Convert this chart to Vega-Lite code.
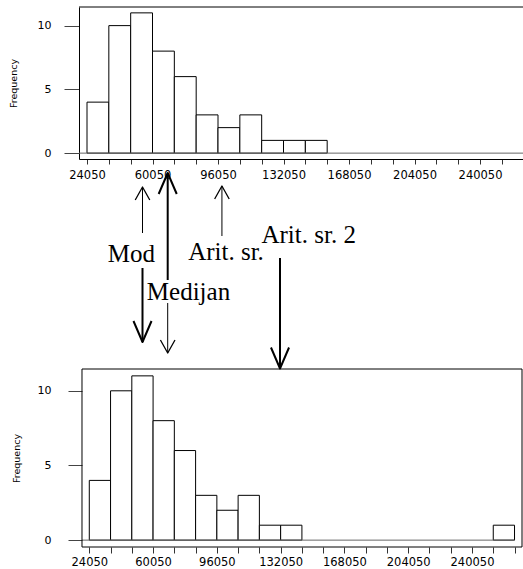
{
  "$schema": "https://vega.github.io/schema/vega-lite/v6.json",
  "padding": {"left": 8, "top": 6, "right": 0, "bottom": 0},
  "background": "white",
  "bounds": "flush",
  "spacing": 0,
  "config": {
    "view": {"stroke": null},
    "axis": {"grid": false, "labelOverlap": false, "labelFlush": false}
  },
  "datasets": {
    "top": [
      {"bin_start": 24050, "bin_end": 36050, "count": 4},
      {"bin_start": 36050, "bin_end": 48050, "count": 10},
      {"bin_start": 48050, "bin_end": 60050, "count": 11},
      {"bin_start": 60050, "bin_end": 72050, "count": 8},
      {"bin_start": 72050, "bin_end": 84050, "count": 6},
      {"bin_start": 84050, "bin_end": 96050, "count": 3},
      {"bin_start": 96050, "bin_end": 108050, "count": 2},
      {"bin_start": 108050, "bin_end": 120050, "count": 3},
      {"bin_start": 120050, "bin_end": 132050, "count": 1},
      {"bin_start": 132050, "bin_end": 144050, "count": 1},
      {"bin_start": 144050, "bin_end": 156050, "count": 1}
    ],
    "bottom": [
      {"bin_start": 24050, "bin_end": 36050, "count": 4},
      {"bin_start": 36050, "bin_end": 48050, "count": 10},
      {"bin_start": 48050, "bin_end": 60050, "count": 11},
      {"bin_start": 60050, "bin_end": 72050, "count": 8},
      {"bin_start": 72050, "bin_end": 84050, "count": 6},
      {"bin_start": 84050, "bin_end": 96050, "count": 3},
      {"bin_start": 96050, "bin_end": 108050, "count": 2},
      {"bin_start": 108050, "bin_end": 120050, "count": 3},
      {"bin_start": 120050, "bin_end": 132050, "count": 1},
      {"bin_start": 132050, "bin_end": 144050, "count": 1},
      {"bin_start": 252050, "bin_end": 264050, "count": 1}
    ],
    "frame": [
      {"left": 19930, "right": 268270, "base_end": 264050, "low": -0.46, "high": 11.46, "zero": 0}
    ],
    "arrows": [
      {"name": "Mod", "x": 54550, "tail": 64.76, "tip": 86.67, "head": "thin-up"},
      {"name": "Mod", "x": 54550, "tail": 48.1, "tip": 12.86, "head": "thick-down"},
      {"name": "Medijan", "x": 68400, "tail": 42.38, "tip": 93.33, "head": "thick-up"},
      {"name": "Medijan", "x": 68400, "tail": 31.43, "tip": 7.62, "head": "thin-down"},
      {"name": "Arit. sr.", "x": 98200, "tail": 63.33, "tip": 87.14, "head": "thin-up"},
      {"name": "Arit. sr. 2", "x": 130120, "tail": 52.86, "tip": 0.24, "head": "thick-down"}
    ],
    "labels": [
      {"label": "Mod", "x": 48400, "y": 51.1},
      {"label": "Medijan", "x": 79830, "y": 32.86},
      {"label": "Arit. sr.", "x": 100440, "y": 51.9},
      {"label": "Arit. sr. 2", "x": 145890, "y": 59.86}
    ]
  },
  "vconcat": [
    {
      "width": 445,
      "height": 152,
      "layer": [
        {
          "data": {"name": "top"},
          "mark": {"type": "rect", "fill": "white", "stroke": "black", "strokeWidth": 1},
          "encoding": {
            "x": {
              "field": "bin_start", "type": "quantitative",
              "scale": {"domain": [19650, 264220], "nice": false, "zero": false},
              "axis": {
                "values": [24050, 36050, 48050, 60050, 72050, 84050, 96050, 108050, 120050, 132050, 144050, 156050, 168050, 180050, 192050, 204050, 216050, 228050, 240050, 252050],
                "format": "d",
                "labelExpr": "(datum.value - 24050) % 36000 == 0 ? datum.label : ''",
                "tickSize": 5, "tickColor": "#333", "domainColor": "black",
                "labelFont": "DejaVu Sans", "labelFontSize": 11.5, "labelColor": "black",
                "labelPadding": 5, "labelOverlap": false, "labelFlush": false,
                "title": null, "grid": false
              }
            },
            "x2": {"field": "bin_end"},
            "y": {
              "field": "count", "type": "quantitative",
              "scale": {"domain": [-0.46, 11.46], "nice": false, "zero": false},
              "axis": {
                "values": [0, 5, 10], "tickSize": 15, "tickColor": "#444", "domainColor": "black",
                "labelFont": "DejaVu Sans", "labelFontSize": 11, "labelColor": "black",
                "labelPadding": 13, "labelOverlap": false, "labelFlush": false,
                "title": "Frequency", "titleFont": "DejaVu Sans", "titleFontSize": 9.5,
                "titleFontWeight": "normal", "titleColor": "black", "titlePadding": 19,
                "grid": false
              }
            },
            "y2": {"datum": 0}
          }
        },
        {
          "data": {"values": [{}]},
          "mark": {"type": "rule", "color": "#666", "strokeWidth": 1},
          "encoding": {"y": {"datum": 0}}
        },
        {
          "data": {"values": [{}]},
          "mark": {"type": "rule", "color": "black", "strokeWidth": 1},
          "encoding": {"y": {"datum": 11.46}}
        }
      ]
    },
    {
      "width": 445,
      "height": 210,
      "layer": [
        {
          "data": {"name": "arrows"},
          "transform": [{"filter": "indexof(datum.head, 'thin') == 0"}],
          "mark": {"type": "rule", "color": "black", "strokeWidth": 1},
          "encoding": {
            "x": {"field": "x", "type": "quantitative", "scale": {"domain": [19650, 264220], "nice": false, "zero": false}, "axis": null},
            "y": {"field": "tail", "type": "quantitative", "scale": {"domain": [0, 100], "nice": false, "zero": false}, "axis": null},
            "y2": {"field": "tip"}
          }
        },
        {
          "data": {"name": "arrows"},
          "transform": [{"filter": "indexof(datum.head, 'thick') == 0"}],
          "mark": {"type": "rule", "color": "black", "strokeWidth": 2},
          "encoding": {
            "x": {"field": "x", "type": "quantitative", "axis": null},
            "y": {"field": "tail", "type": "quantitative", "axis": null},
            "y2": {"field": "tip"}
          }
        },
        {
          "data": {"name": "arrows"},
          "transform": [{"filter": "datum.head == 'thin-up'"}],
          "mark": {"type": "point", "shape": "M-0.56,1L0,0L0.56,1", "size": 676, "filled": false, "stroke": "black", "strokeWidth": 1.3, "opacity": 1, "strokeJoin": "round"},
          "encoding": {
            "x": {"field": "x", "type": "quantitative", "axis": null},
            "y": {"field": "tip", "type": "quantitative", "axis": null}
          }
        },
        {
          "data": {"name": "arrows"},
          "transform": [{"filter": "datum.head == 'thin-down'"}],
          "mark": {"type": "point", "shape": "M-0.56,-1L0,0L0.56,-1", "size": 676, "filled": false, "stroke": "black", "strokeWidth": 1.3, "opacity": 1, "strokeJoin": "round"},
          "encoding": {
            "x": {"field": "x", "type": "quantitative", "axis": null},
            "y": {"field": "tip", "type": "quantitative", "axis": null}
          }
        },
        {
          "data": {"name": "arrows"},
          "transform": [{"filter": "datum.head == 'thick-up'"}],
          "mark": {"type": "point", "shape": "M-0.43,1L0,0L0.43,1", "size": 1764, "filled": false, "stroke": "black", "strokeWidth": 2, "opacity": 1, "strokeJoin": "round"},
          "encoding": {
            "x": {"field": "x", "type": "quantitative", "axis": null},
            "y": {"field": "tip", "type": "quantitative", "axis": null}
          }
        },
        {
          "data": {"name": "arrows"},
          "transform": [{"filter": "datum.head == 'thick-down'"}],
          "mark": {"type": "point", "shape": "M-0.43,-1L0,0L0.43,-1", "size": 1764, "filled": false, "stroke": "black", "strokeWidth": 2, "opacity": 1, "strokeJoin": "round"},
          "encoding": {
            "x": {"field": "x", "type": "quantitative", "axis": null},
            "y": {"field": "tip", "type": "quantitative", "axis": null}
          }
        },
        {
          "data": {"name": "labels"},
          "mark": {"type": "text", "font": "Liberation Serif", "fontSize": 25, "align": "center", "baseline": "alphabetic", "color": "black"},
          "encoding": {
            "x": {"field": "x", "type": "quantitative", "axis": null},
            "y": {"field": "y", "type": "quantitative", "axis": null},
            "text": {"field": "label"}
          }
        }
      ]
    },
    {
      "width": 443,
      "height": 178,
      "layer": [
        {
          "data": {"name": "bottom"},
          "mark": {"type": "rect", "fill": "white", "stroke": "black", "strokeWidth": 1},
          "encoding": {
            "x": {
              "field": "bin_start", "type": "quantitative",
              "scale": {"domain": [18240, 268270], "nice": false, "zero": false},
              "axis": {
                "values": [24050, 36050, 48050, 60050, 72050, 84050, 96050, 108050, 120050, 132050, 144050, 156050, 168050, 180050, 192050, 204050, 216050, 228050, 240050, 252050, 264050],
                "format": "d",
                "labelExpr": "(datum.value - 24050) % 36000 == 0 ? datum.label : ''",
                "tickSize": 6, "tickColor": "#333", "domain": false,
                "labelFont": "DejaVu Sans", "labelFontSize": 11.5, "labelColor": "black",
                "labelPadding": 3, "labelOverlap": false, "labelFlush": false,
                "title": null, "grid": false
              }
            },
            "x2": {"field": "bin_end"},
            "y": {
              "field": "count", "type": "quantitative",
              "scale": {"domain": [-0.46, 11.46], "nice": false, "zero": false},
              "axis": {
                "values": [0, 5, 10], "offset": -3, "tickSize": 14, "tickColor": "#444", "domain": false,
                "labelFont": "DejaVu Sans", "labelFontSize": 11, "labelColor": "black",
                "labelPadding": 17, "labelOverlap": false, "labelFlush": false,
                "title": "Frequency", "titleFont": "DejaVu Sans", "titleFontSize": 9.5,
                "titleFontWeight": "normal", "titleColor": "black", "titlePadding": 15.5,
                "grid": false
              }
            },
            "y2": {"datum": 0}
          }
        },
        {
          "data": {"name": "frame"},
          "mark": {"type": "rule", "color": "#666", "strokeWidth": 1},
          "encoding": {
            "x": {
              "field": "left", "type": "quantitative",
              "axis": {
                "values": [24050, 36050, 48050, 60050, 72050, 84050, 96050, 108050, 120050, 132050, 144050, 156050, 168050, 180050, 192050, 204050, 216050, 228050, 240050, 252050, 264050],
                "format": "d",
                "labelExpr": "(datum.value - 24050) % 36000 == 0 ? datum.label : ''",
                "tickSize": 6, "tickColor": "#333", "domain": false,
                "labelFont": "DejaVu Sans", "labelFontSize": 11.5, "labelColor": "black",
                "labelPadding": 3, "labelOverlap": false, "labelFlush": false,
                "title": null, "grid": false
              }
            },
            "x2": {"field": "base_end"},
            "y": {"field": "zero", "type": "quantitative"}
          }
        },
        {
          "data": {"name": "frame"},
          "mark": {"type": "rect", "fillOpacity": 0, "stroke": "black", "strokeWidth": 1},
          "encoding": {
            "x": {
              "field": "left", "type": "quantitative",
              "axis": {
                "values": [24050, 36050, 48050, 60050, 72050, 84050, 96050, 108050, 120050, 132050, 144050, 156050, 168050, 180050, 192050, 204050, 216050, 228050, 240050, 252050, 264050],
                "format": "d",
                "labelExpr": "(datum.value - 24050) % 36000 == 0 ? datum.label : ''",
                "tickSize": 6, "tickColor": "#333", "domain": false,
                "labelFont": "DejaVu Sans", "labelFontSize": 11.5, "labelColor": "black",
                "labelPadding": 3, "labelOverlap": false, "labelFlush": false,
                "title": null, "grid": false
              }
            },
            "x2": {"field": "right"},
            "y": {"field": "low", "type": "quantitative"},
            "y2": {"field": "high"}
          }
        }
      ]
    }
  ],
  "resolve": {"scale": {"x": "independent", "y": "independent"}}
}
